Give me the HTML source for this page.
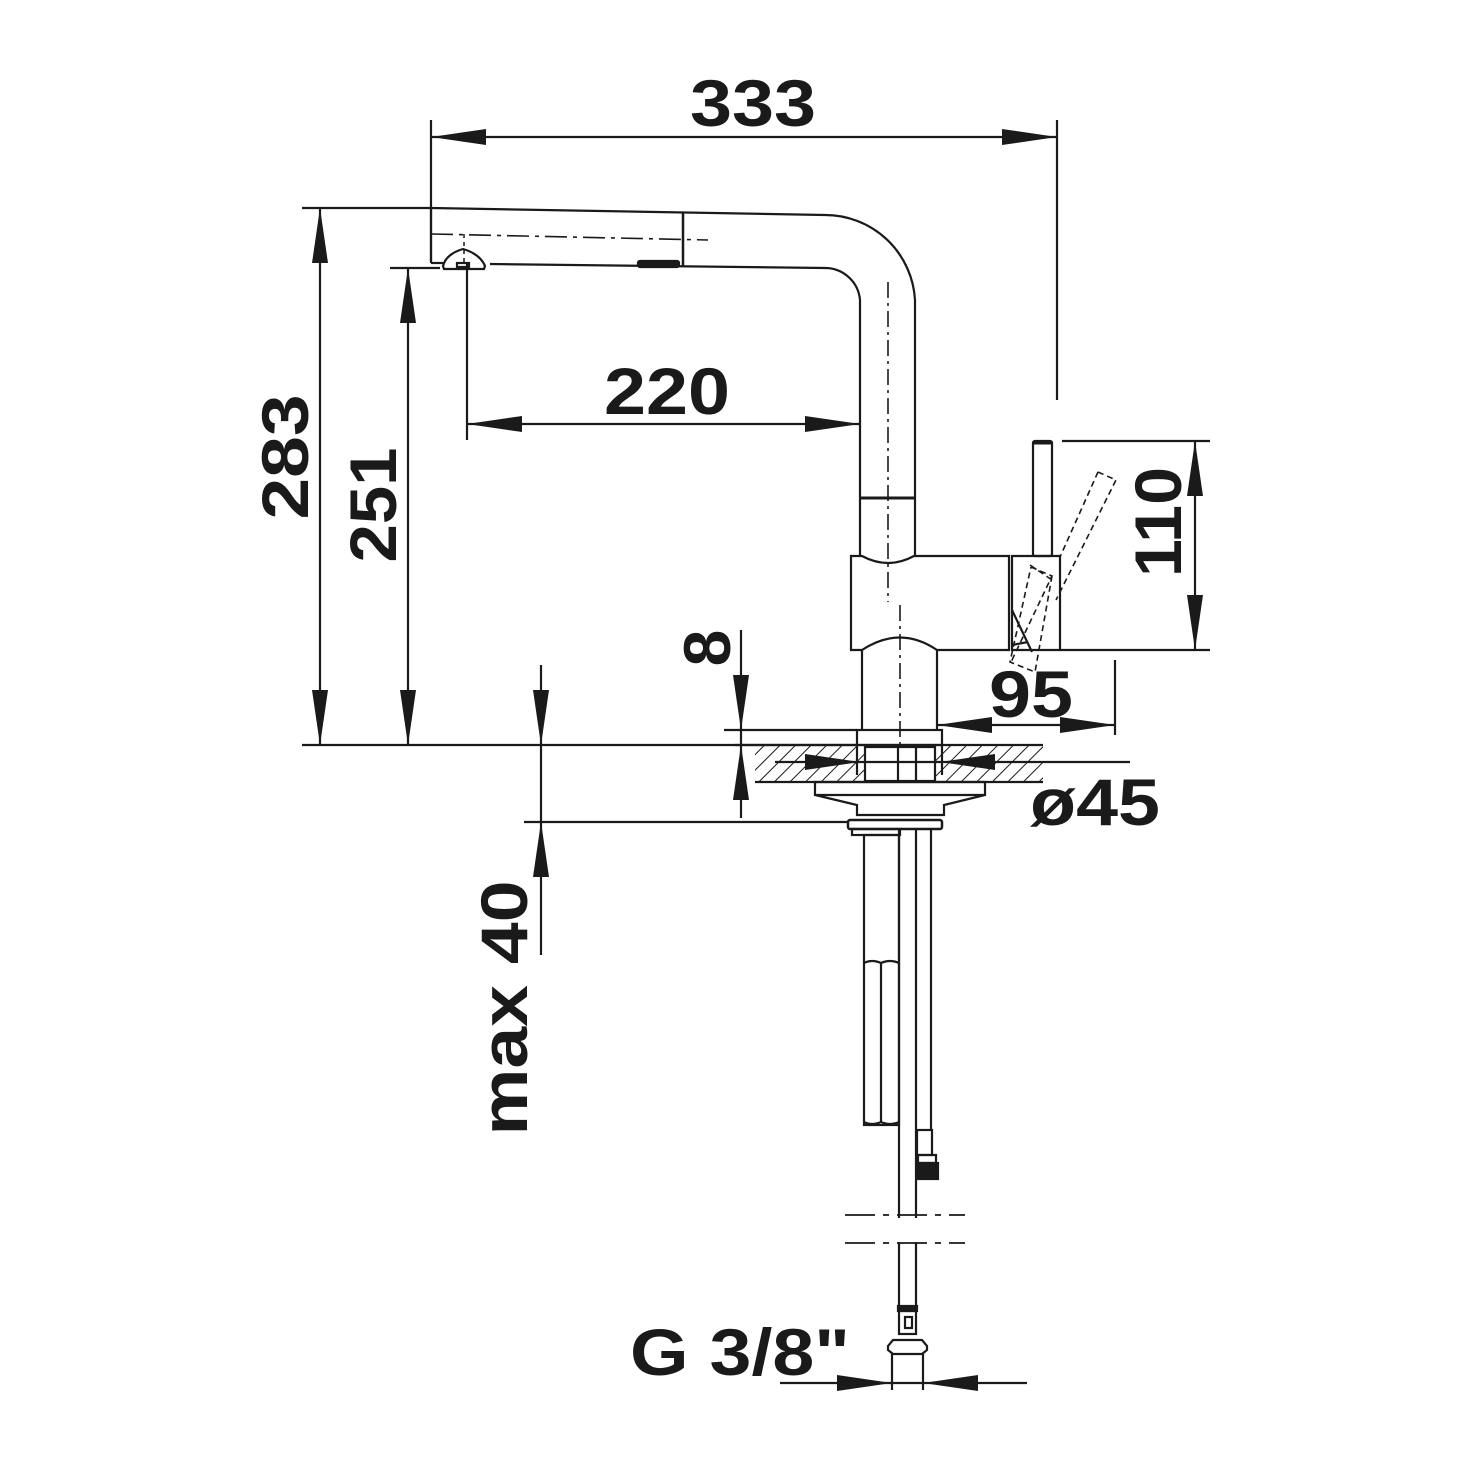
<!DOCTYPE html>
<html><head><meta charset="utf-8"><style>html,body{margin:0;padding:0;background:#fff}svg{display:block}</style></head><body>
<svg width="1464" height="1464" viewBox="0 0 1464 1464" xmlns="http://www.w3.org/2000/svg">
<defs>
<pattern id="h" patternUnits="userSpaceOnUse" width="11" height="11" patternTransform="rotate(45)">
<line x1="0" y1="0" x2="0" y2="11" stroke="#1a1a1a" stroke-width="2"/>
</pattern>
</defs>
<g fill="none" stroke="#1a1a1a" stroke-width="2.2">
<line x1="431" y1="120" x2="431" y2="262"/>
<line x1="1057" y1="120" x2="1057" y2="400"/>
<line x1="431" y1="137" x2="1057" y2="137"/>
<line x1="302" y1="208" x2="431" y2="208"/>
<line x1="320" y1="208" x2="320" y2="745"/>
<line x1="390" y1="268" x2="440" y2="268"/>
<line x1="408" y1="268" x2="408" y2="745"/>
<line x1="467" y1="262" x2="467" y2="440"/>
<line x1="467" y1="424" x2="860" y2="424"/>
<line x1="302" y1="745" x2="857" y2="745"/>
<line x1="724" y1="730" x2="857" y2="730"/>
<line x1="741" y1="630" x2="741" y2="818"/>
<line x1="541" y1="665" x2="541" y2="955"/>
<line x1="524" y1="822" x2="848" y2="822"/>
<path d="M431 208 L825 215 A90 90 0 0 1 915 300 L915 556"/>
<path d="M490 264 L825 268 A35 35 0 0 1 860 300 L860 556"/>
<line x1="431" y1="208" x2="431" y2="263"/>
<line x1="431" y1="263" x2="443" y2="263"/>
<line x1="683" y1="212" x2="683" y2="266" stroke-width="2.5"/>
<path d="M431 234 L708 240" stroke-dasharray="22,6,4,6" stroke-width="1.6"/>
<path d="M443 266 Q446 254 463 249 Q480 254 485 266 L484 269 L444 269 Z"/>
<rect x="457" y="263" width="12" height="4"/>
<line x1="464" y1="234" x2="464" y2="262" stroke-dasharray="4,4" stroke-width="1.5"/>
<rect x="638" y="261" width="41" height="6" rx="2" fill="#1a1a1a"/>
<line x1="888" y1="282" x2="888" y2="602" stroke-dasharray="16,5,3,5" stroke-width="1.6"/>
<line x1="900" y1="605" x2="900" y2="745" stroke-dasharray="16,5,3,5" stroke-width="1.6"/>
<line x1="860" y1="498" x2="915" y2="498" stroke-width="3"/>
<path d="M851 556 L862 556 Q888 570 914 556 L1009 556 L1009 650 L937 650 Q900 625 862 650 L851 650 Z"/>
<line x1="862" y1="650" x2="862" y2="730"/>
<line x1="937" y1="650" x2="937" y2="730"/>
<path d="M1012 556 L1060 556 L1060 650 L1012 650 Z"/>
<path d="M1012 610 L1032 652 M1012 645 L1028 642"/>
<rect x="1033" y="441" width="19" height="115" rx="2"/>
<line x1="1033" y1="443" x2="1052" y2="443" stroke-width="3"/>
<path d="M1098 472 L1116 480 L1056 600 M1098 472 L1060 557" stroke-dasharray="6,4" stroke-width="1.6"/>
<path d="M1031 567 L1052 576 L1012 660 L1010 658 M1052 576 L1035 672 L1010 662 L1031 567 M1030 565 L1052 580" stroke-dasharray="6,4" stroke-width="1.6"/>
<line x1="1062" y1="441" x2="1210" y2="441"/>
<line x1="1060" y1="650" x2="1210" y2="650"/>
<line x1="1195" y1="441" x2="1195" y2="650"/>
<line x1="1115" y1="660" x2="1115" y2="735"/>
<line x1="937" y1="725" x2="1115" y2="725"/>
<rect x="857" y="730" width="85" height="15"/>
<rect x="755" y="745" width="288" height="37" fill="url(#h)" stroke="none"/>
<line x1="735" y1="745" x2="1043" y2="745"/>
<line x1="755" y1="782" x2="1043" y2="782"/>
<rect x="865" y="747" width="70" height="34" fill="#fff"/>
<line x1="857" y1="745" x2="857" y2="775"/><line x1="942" y1="745" x2="942" y2="775"/>
<line x1="898" y1="748" x2="898" y2="782"/><line x1="916" y1="748" x2="916" y2="782"/>
<line x1="775" y1="762" x2="1130" y2="762"/>
<path d="M815 782 L985 782 L985 795 L944 805 L944 815 L857 815 L857 805 L815 795 Z M815 795 L985 795"/>
<rect x="848" y="820" width="94" height="9" rx="2" stroke-width="2.5"/>
<rect x="852" y="829" width="48" height="6"/>
<rect x="864" y="835" width="35" height="290"/>
<path d="M864 963 Q872 959 881 963 Q890 959 899 963 M881 963 L881 1122 M864 1122 Q872 1126 881 1122 Q890 1126 899 1122"/>
<line x1="899" y1="829" x2="899" y2="1218"/><line x1="916" y1="829" x2="916" y2="1218"/>
<line x1="931" y1="829" x2="931" y2="1130"/>
<rect x="917" y="1130" width="15" height="25"/>
<rect x="918" y="1163" width="20" height="16" fill="#1a1a1a"/>
<rect x="918" y="1155" width="18" height="8"/>
<line x1="899" y1="1242" x2="899" y2="1306"/><line x1="916" y1="1242" x2="916" y2="1306"/>
<path d="M845 1215 L965 1215 M845 1243 L965 1243" stroke-dasharray="30,8,6,8" stroke-width="1.8"/>
<rect x="898" y="1306" width="19" height="5" fill="#1a1a1a"/>
<rect x="899" y="1311" width="17" height="23"/>
<rect x="905" y="1317" width="7" height="11"/>
<path d="M893 1340 L922 1340 L927 1346 L927 1350 L922 1354 L893 1354 L888 1350 L888 1346 Z"/>
<line x1="892" y1="1354" x2="892" y2="1390"/><line x1="923" y1="1354" x2="923" y2="1390"/>
<line x1="780" y1="1383" x2="1027" y2="1383"/>
</g>
<g fill="#1a1a1a">
<polygon points="431,137 486,129 486,145"/><polygon points="1057,137 1002,129 1002,145"/>
<polygon points="320,208 312,263 328,263"/><polygon points="320,745 312,690 328,690"/>
<polygon points="408,268 400,323 416,323"/><polygon points="408,745 400,690 416,690"/>
<polygon points="467,424 522,416 522,432"/><polygon points="860,424 805,416 805,432"/>
<polygon points="741,730 733,675 749,675"/><polygon points="741,745 733,800 749,800"/>
<polygon points="541,745 533,690 549,690"/><polygon points="541,822 533,877 549,877"/>
<polygon points="1195,441 1187,496 1203,496"/><polygon points="1195,650 1187,595 1203,595"/>
<polygon points="937,725 992,717 992,733"/><polygon points="1115,725 1060,717 1060,733"/>
<polygon points="860,762 805,754 805,770"/><polygon points="940,762 995,754 995,770"/>
<polygon points="892,1383 837,1375 837,1391"/><polygon points="923,1383 978,1375 978,1391"/>
</g>
<g font-family="Liberation Sans, sans-serif" font-weight="bold" font-size="66" fill="#1a1a1a">
<text x="690" y="126" textLength="126" lengthAdjust="spacingAndGlyphs">333</text>
<text x="604" y="414" textLength="126" lengthAdjust="spacingAndGlyphs">220</text>
<text x="989" y="717" textLength="84" lengthAdjust="spacingAndGlyphs">95</text>
<text x="1030" y="825" textLength="130" lengthAdjust="spacingAndGlyphs">ø45</text>
<text x="630" y="1375" textLength="220" lengthAdjust="spacingAndGlyphs">G 3/8"</text>
<text transform="translate(308,457) rotate(-90)" text-anchor="middle" textLength="125" lengthAdjust="spacingAndGlyphs">283</text>
<text transform="translate(396,505) rotate(-90)" text-anchor="middle" textLength="115" lengthAdjust="spacingAndGlyphs">251</text>
<text transform="translate(1181,522) rotate(-90)" text-anchor="middle" textLength="110" lengthAdjust="spacingAndGlyphs">110</text>
<text transform="translate(730,648) rotate(-90)" text-anchor="middle">8</text>
<text transform="translate(527,1008) rotate(-90)" text-anchor="middle" textLength="255" lengthAdjust="spacingAndGlyphs">max 40</text>
</g>
</svg>
</body></html>
